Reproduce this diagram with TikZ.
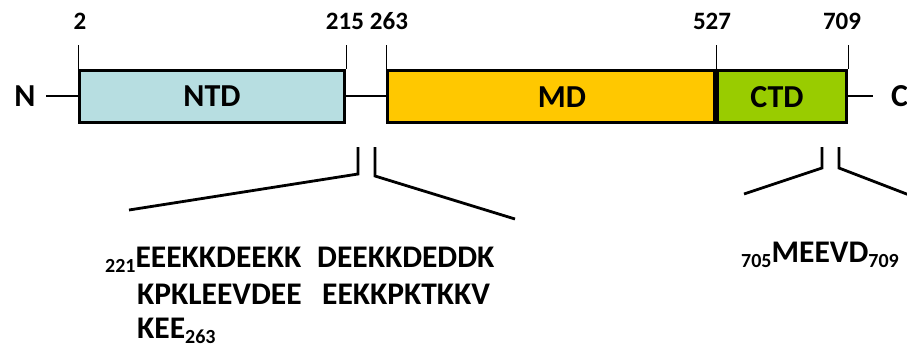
\documentclass[tikz,border=0pt]{standalone}
\usepackage{fontspec}
\setmainfont{Carlito}
\newcommand{\subnum}[1]{\raisebox{-5.5pt}{\fontsize{20}{22}\selectfont #1}}
\begin{document}
\begin{tikzpicture}[x=1pt,y=-1pt,
  lab/.style={font=\bfseries\fontsize{32}{36}\selectfont, inner sep=0pt},
  num/.style={font=\bfseries\fontsize{25}{28}\selectfont, inner sep=0pt},
  seq/.style={font=\bfseries\fontsize{31.5}{36}\selectfont, inner sep=0pt, anchor=base west},
  dom/.style={draw=black, line width=3pt, inner sep=0pt, font=\bfseries\fontsize{32}{36}\selectfont},
  tick/.style={line width=1pt},
  thick line/.style={line width=2.8pt},
  brk/.style={line width=2.8pt, line join=miter}]
\useasboundingbox (0,0) rectangle (907,349);
\definecolor{ntdc}{HTML}{B7DEE1}
\definecolor{mdc}{HTML}{FFC800}
\definecolor{ctdc}{HTML}{99CC00}
\begin{scope}
\clip (0,0) rectangle (907,349);
% domains
\node[dom, fill=ntdc, minimum width=265pt, minimum height=52pt] (ntd) at (212,96) {NTD};
\node[dom, fill=mdc, minimum width=327pt, minimum height=52pt, anchor=west] (md) at (386,96) {};
\node[dom, fill=ctdc, minimum width=129pt, minimum height=52pt, anchor=west] (ctd) at (md.east) {};
\draw[line width=3pt] (md.north east) -- (md.south east);
\node[lab] at (562,97) {MD};
\node[lab] at (777,97) {CTD};
% termini and linker
\node[lab] (n) at (25,96) {N};
\node[lab, anchor=west] (c) at (891,96) {C};
\coordinate (nl) at (46,96);
\coordinate (cl) at (873,96);
\draw[thick line] (nl) -- (ntd.west);
\draw[thick line] (ntd.east) -- (md.west);
\draw[thick line] (ctd.east) -- (cl);
% residue ticks
\coordinate (t2) at (ntd.north west);
\coordinate (t215) at (ntd.north east);
\coordinate (t263) at (md.north west);
\coordinate (t527) at (md.north east);
\coordinate (t709) at (ctd.north east);
\foreach \t in {t2,t215,t263,t527,t709}
  \draw[tick] (\t) -- ++(0,-24);
\node[num] (n2) at (80,21) {2};
\node[num] (n215) at (345,21) {215};
\node[num] (n263) at (389,21) {263};
\node[num] (n527) at (712,21) {527};
\node[num] (n709) at (842,21) {709};
% brackets for the acidic linker
\coordinate (b1a) at (358,147);
\coordinate (b1b) at (358,174);
\coordinate (b1c) at (129,210);
\coordinate (b2a) at (375,147);
\coordinate (b2b) at (375,176);
\coordinate (b2c) at (515,219);
\draw[brk] (b1a) -- (b1b) -- (b1c);
\draw[brk] (b2a) -- (b2b) -- (b2c);
% brackets for the C-terminal motif
\coordinate (b3a) at (822,147);
\coordinate (b3b) at (822,168);
\coordinate (b3c) at (744,194);
\coordinate (b4a) at (839,147);
\coordinate (b4b) at (839,168);
\coordinate (b4c) at (917,198);
\draw[brk] (b3a) -- (b3b) -- (b3c);
\draw[brk] (b4a) -- (b4b) -- (b4c);
% sequences
\node[seq] (s1) at (105,267) {\subnum{221}EEEKKDEEKK};
\node[seq] (s2) at (317,267) {DEEKKDEDDK};
\node[seq] (s3) at (137,304) {KPKLEEVDEE};
\node[seq] (s4) at (322,304) {EEKKPKTKKV};
\node[seq] (s5) at (137,338) {KEE\subnum{263}};
\node[seq] (s6) at (741,262) {\subnum{705}MEEVD\subnum{709}};
\end{scope}
\end{tikzpicture}
\end{document}
